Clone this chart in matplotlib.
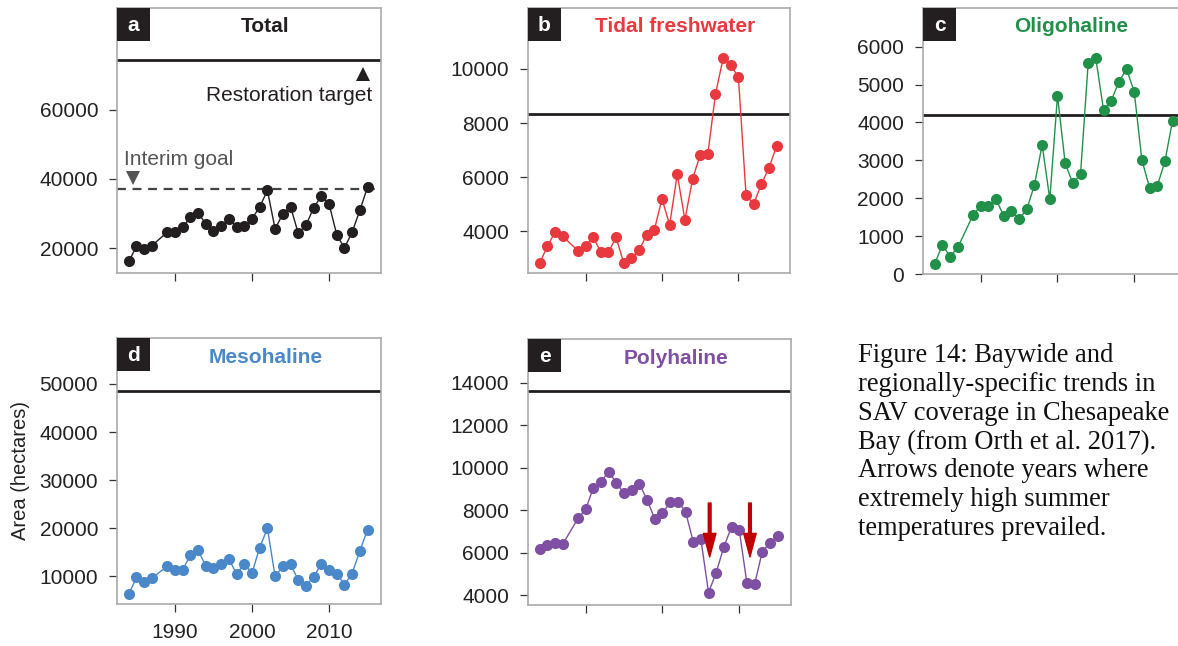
import matplotlib.pyplot as plt
from matplotlib.patches import Rectangle

plt.rcParams['font.family'] = ['Liberation Sans', 'DejaVu Sans']

# survey years (no baywide survey in 1988)
years = [1984, 1985, 1986, 1987, 1989, 1990, 1991, 1992, 1993, 1994, 1995,
         1996, 1997, 1998, 1999, 2000, 2001, 2002, 2003, 2004, 2005, 2006,
         2007, 2008, 2009, 2010, 2011, 2012, 2013, 2014, 2015]

total = [16100, 20500, 19700, 20700, 24600, 24700, 26000, 29000, 30100, 27000, 25000,
         26300, 28500, 26100, 26300, 28500, 31900, 36700, 25500, 29900, 32000, 24300,
         26600, 31600, 35100, 32800, 23900, 20000, 24600, 30900, 37600]
tidal_fresh = [2830, 3450, 3970, 3820, 3290, 3450, 3780, 3240, 3240, 3780, 2830,
               3020, 3300, 3880, 4060, 5200, 4250, 6110, 4430, 5930, 6830, 6860,
               9070, 10390, 10150, 9690, 5330, 5010, 5750, 6340, 7160]
oligohaline = [270, 770, 460, 700, 1560, 1800, 1800, 1970, 1530, 1660, 1450,
               1710, 2350, 3410, 1970, 4710, 2920, 2390, 2630, 5560, 5690, 4330,
               4570, 5070, 5410, 4810, 3010, 2280, 2320, 2970, 4050]
mesohaline = [6300, 9800, 8750, 9650, 12100, 11400, 11400, 14400, 15400, 12200, 11700,
              12600, 13600, 10500, 12600, 10700, 16000, 20000, 10000, 12100, 12600, 9200,
              8100, 9900, 12600, 11300, 10600, 8300, 10600, 15300, 19700]
polyhaline = [6160, 6360, 6440, 6410, 7620, 8060, 9070, 9350, 9820, 9270, 8800,
              8960, 9240, 8490, 7590, 7860, 8380, 8410, 7940, 6530, 6650, 4130,
              5070, 6280, 7220, 7070, 4590, 4510, 6050, 6470, 6780]

targets = {'Total': 74500, 'Tidal freshwater': 8350, 'Oligohaline': 4190,
           'Mesohaline': 48600, 'Polyhaline': 13610}
interim_goal = 37100
heat_years = [2006.15, 2011.4]

W, H = 1178, 646
INK = '#231f20'
fig = plt.figure(figsize=(W / 100, H / 100), dpi=100)


def add_panel(left, top, right, bottom):
    return fig.add_axes([left / W, 1 - bottom / H, (right - left) / W, (bottom - top) / H])


panels = [
    ('a', 'Total', INK, total, (12770, 89500), [20000, 40000, 60000], (117, 8, 381, 273)),
    ('b', 'Tidal freshwater', '#e8393f', tidal_fresh, (2466, 12250),
     [4000, 6000, 8000, 10000], (528, 8, 790, 273)),
    ('c', 'Oligohaline', '#21914a', oligohaline, (0, 7020),
     [0, 1000, 2000, 3000, 4000, 5000, 6000], (923, 8, 1186, 274)),
    ('d', 'Mesohaline', '#4a88c9', mesohaline, (4260, 59560),
     [10000, 20000, 30000, 40000, 50000], (117, 338, 381, 604)),
    ('e', 'Polyhaline', '#7f4fa3', polyhaline, (3544, 16055),
     [4000, 6000, 8000, 10000, 12000, 14000], (528, 339, 791, 605)),
]

axes = {}
for letter, title, color, values, ylim, yticks, box in panels:
    ax = add_panel(*box)
    axes[letter] = ax
    ax.plot(years, values, '-o', color=color, lw=1, ms=8, mew=0, zorder=3)
    ax.axhline(targets[title], color=INK, lw=2, zorder=2)
    ax.set_xlim(1982.47, 2016.75)
    ax.set_ylim(*ylim)
    ax.set_yticks(yticks)
    ax.set_xticks([1990, 2000, 2010])
    if letter != 'd':
        ax.set_xticklabels([])
    for s in ax.spines.values():
        s.set_color('#aaaaaa')
        s.set_linewidth(1.2)
    ax.tick_params(direction='out', length=6, width=0.9, color='#333333',
                   labelsize=15, labelcolor='#222222', pad=7.5)
    ax.tick_params(axis='x', pad=8)

    # header: black letter box and coloured title
    hgt = box[3] - box[1]
    bw = 33 / (box[2] - box[0])
    bh = 33 / hgt
    ax.add_patch(Rectangle((0, 1 - bh), bw, bh, transform=ax.transAxes,
                           facecolor=INK, edgecolor='none', zorder=5, clip_on=False))
    ax.text(bw / 2, 1 - bh / 2 - 1 / hgt, letter, transform=ax.transAxes, color='white',
            fontsize=15, fontweight='bold', ha='center', va='center', zorder=6)
    ax.text((bw + 1) / 2, 1 - bh / 2 - 2.5 / hgt, title, transform=ax.transAxes, color=color,
            fontsize=15, fontweight='bold', ha='center', va='center', zorder=6)

# panel a: interim goal and restoration target
ax = axes['a']
ax.axhline(interim_goal, color='#444444', lw=1.6, ls=(0, (4, 3)), zorder=2)
ax.plot([1984.55], [interim_goal + 3300], marker='v', color='#555555', ms=10, mew=0)
ax.text(1983.35, interim_goal + 8400, 'Interim goal', color='#555555',
        fontsize=15, ha='left', va='center')
ax.plot([2014.4], [targets['Total'] - 4100], marker='^', color=INK, ms=10, mew=0)
ax.text(2015.6, targets['Total'] - 10200, 'Restoration target', color=INK,
        fontsize=15, ha='right', va='center')

# panel d: y label
ax = axes['d']
ax.set_ylabel('Area (hectares)', fontsize=14.5, color='#222222')
ax.yaxis.set_label_coords(-0.33, 0.5)

# panel e: heat-wave arrows
ax = axes['e']
for x in heat_years:
    ax.annotate('', xy=(x, 5800), xytext=(x, 8340),
                arrowprops=dict(facecolor='#c00000', edgecolor='#c00000',
                                width=2, headwidth=9, headlength=17, shrink=0),
                zorder=7)

caption = ('Figure 14: Baywide and\n'
           'regionally-specific trends in\n'
           'SAV coverage in Chesapeake\n'
           'Bay (from Orth et al. 2017).\n'
           'Arrows denote years where\n'
           'extremely high summer\n'
           'temperatures prevailed.')
fig.text(858 / W, 1 - 343 / H, caption, family='Liberation Serif', fontsize=19.1,
         va='top', ha='left', linespacing=1.2, color='#111111')

fig.savefig('out.png', dpi=100)
